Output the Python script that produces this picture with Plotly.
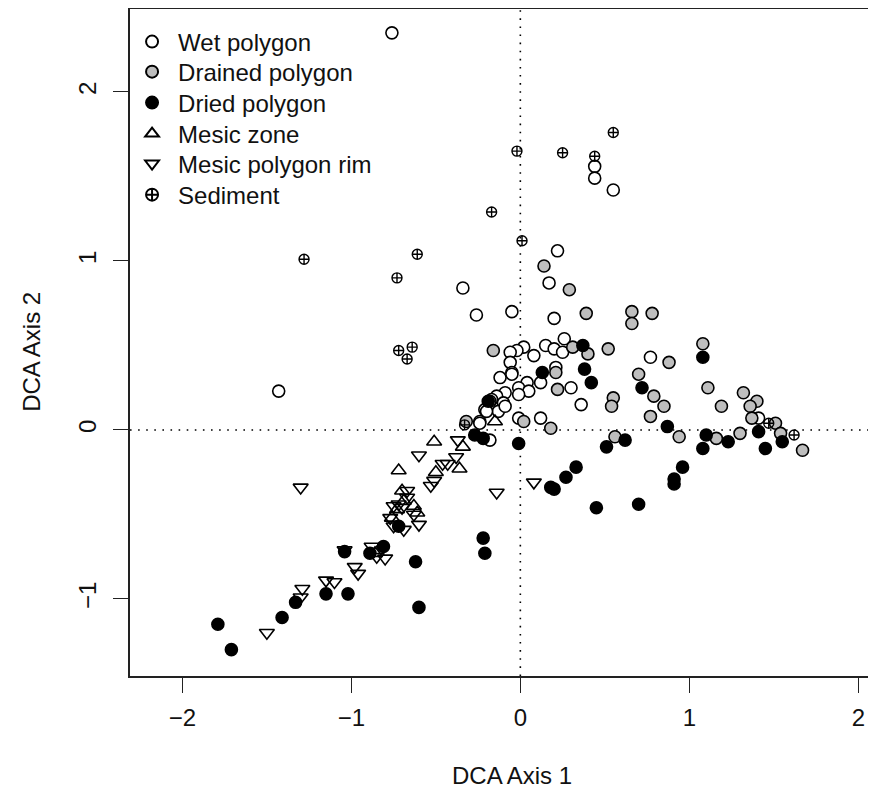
import plotly.graph_objects as go

# ---- data (DCA scores) ----
wet_x = [-0.76, -1.43, -0.34, -0.26, -0.05, 0.44, 0.44, 0.55, 0.22, 0.17, 0.20, 0.77,
         0.26, 0.21, 0.30, 0.36, 0.12, -0.01, 1.41, -0.18,
         0.02, -0.02, -0.06, 0.08, 0.15, 0.20, 0.25, -0.06, -0.05, -0.12, 0.12, 0.04,
         -0.01, 0.05, -0.09, -0.14, -0.01, -0.17, -0.10, -0.21, -0.13, -0.09, -0.24, -0.18,
         -0.05, -0.24, -0.20]
wet_y = [2.35, 0.23, 0.84, 0.68, 0.70, 1.56, 1.49, 1.42, 1.06, 0.87, 0.66, 0.43,
         0.54, 0.37, 0.25, 0.15, 0.07, 0.07, 0.07, -0.06,
         0.49, 0.47, 0.46, 0.44, 0.50, 0.48, 0.46, 0.40, 0.34, 0.31, 0.28, 0.28,
         0.25, 0.23, 0.22, 0.20, 0.21, 0.18, 0.16, 0.12, 0.11, 0.14, 0.05, 0.17,
         0.33, 0.04, 0.11]

drained_x = [0.14, 0.29, 0.39, 0.66, 0.66, 0.78, -0.16, 0.52, 0.40, 1.08, 0.88, 0.70,
             0.22, 1.11, 0.79, 0.55, 0.54, 0.85, 0.77, 1.19, 1.32, 1.40, 1.36, 1.37,
             1.51, 1.54, 1.67, 0.02, 0.18, 0.56, 0.94, 1.16, 1.30, 0.31, 0.21, -0.32]
drained_y = [0.97, 0.83, 0.69, 0.70, 0.63, 0.69, 0.47, 0.48, 0.45, 0.51, 0.40, 0.33,
             0.24, 0.25, 0.20, 0.19, 0.14, 0.14, 0.08, 0.14, 0.22, 0.17, 0.14, 0.07,
             0.04, -0.02, -0.12, 0.05, 0.01, -0.04, -0.04, -0.05, -0.02, 0.49, 0.34, 0.05]

dried_x = [0.37, 1.08, 0.13, 0.38, 0.42, 0.72, 0.87, 1.10, 1.08, 1.23, 1.41, 1.45,
           1.55, 0.62, 0.51, -0.01, 0.33, 0.27, 0.18, 0.20, 0.96, 0.91, 0.91, 0.45,
           0.70, -0.27, -0.22, -0.22, -0.21, -0.62, -0.81, -0.89, -1.04, -1.02, -1.15,
           -1.33, -1.41, -1.79, -1.71, -0.60, -0.72, -0.19]
dried_y = [0.50, 0.43, 0.34, 0.36, 0.28, 0.25, 0.02, -0.03, -0.11, -0.07, -0.01, -0.11,
           -0.07, -0.06, -0.10, -0.08, -0.22, -0.28, -0.34, -0.35, -0.22, -0.29, -0.32, -0.46,
           -0.44, -0.03, -0.05, -0.64, -0.73, -0.78, -0.69, -0.73, -0.72, -0.97, -0.97,
           -1.02, -1.11, -1.15, -1.30, -1.05, -0.57, 0.17]

mesic_zone_x = [-0.51, -0.72, -0.36, -0.34, -0.50, -0.15, -0.70, -0.61, -0.73, -0.76,
                -0.69, -0.86, -0.63]
mesic_zone_y = [-0.07, -0.24, -0.23, -0.10, -0.25, 0.05, -0.36, -0.49, -0.47, -0.52,
                -0.42, -0.73, -0.45]

rim_x = [-1.30, -0.60, -0.37, -0.38, -0.43, -0.46, -0.51, -0.53, -0.67, -0.67, -0.75,
         -0.70, -0.77, -0.75, -0.69, -0.60, -0.63, -1.04, -0.88, -0.85, -0.80, -0.98,
         -0.96, -1.10, -1.15, -1.29, -1.30, -1.50, -0.14, 0.08, -0.72]
rim_y = [-0.34, -0.15, -0.06, -0.16, -0.20, -0.20, -0.30, -0.33, -0.36, -0.40, -0.45,
         -0.46, -0.52, -0.57, -0.59, -0.56, -0.50, -0.71, -0.69, -0.75, -0.76, -0.81,
         -0.85, -0.90, -0.89, -0.94, -0.99, -1.20, -0.37, -0.31, -0.44]

sediment_x = [0.55, -0.02, 0.25, 0.44, -0.17, 0.01, -1.28, -0.61, -0.73, -0.72, -0.64,
              -0.67, -0.33, 1.47, 1.62]
sediment_y = [1.76, 1.65, 1.64, 1.62, 1.29, 1.12, 1.01, 1.04, 0.90, 0.47, 0.49,
              0.42, 0.03, 0.04, -0.03]

x_ticks = [-2, -1, 0, 1, 2]
x_ticktext = ["\u22122", "\u22121", "0", "1", "2"]
y_ticks = [-1, 0, 1, 2]
y_ticktext = ["\u22121", "0", "1", "2"]

FONT = "Liberation Sans, Arial, Helvetica, sans-serif"
FS = 24
LW = 1.6

# each legend row gets its own legend box so rows can be spaced like the original
legend_rows_y = [0.9505, 0.9055, 0.8591, 0.8126, 0.7676, 0.7211]
legend_ids = ["legend", "legend2", "legend3", "legend4", "legend5", "legend6"]

fig = go.Figure()
fig.add_trace(go.Scatter(x=wet_x, y=wet_y, mode="markers", name="Wet polygon", legend=legend_ids[0],
                         marker=dict(symbol="circle", size=12, color="white",
                                     line=dict(color="black", width=LW))))
fig.add_trace(go.Scatter(x=drained_x, y=drained_y, mode="markers", name="Drained polygon", legend=legend_ids[1],
                         marker=dict(symbol="circle", size=12, color="#bebebe",
                                     line=dict(color="black", width=LW))))
fig.add_trace(go.Scatter(x=dried_x, y=dried_y, mode="markers", name="Dried polygon", legend=legend_ids[2],
                         marker=dict(symbol="circle", size=12, color="black",
                                     line=dict(color="black", width=LW))))
fig.add_trace(go.Scatter(x=mesic_zone_x, y=mesic_zone_y, mode="markers", name="Mesic zone", legend=legend_ids[3],
                         marker=dict(symbol="triangle-up-open", size=13, color="black",
                                     line=dict(color="black", width=LW))))
fig.add_trace(go.Scatter(x=rim_x, y=rim_y, mode="markers", name="Mesic polygon rim", legend=legend_ids[4],
                         marker=dict(symbol="triangle-down-open", size=13, color="black",
                                     line=dict(color="black", width=LW))))
fig.add_trace(go.Scatter(x=sediment_x, y=sediment_y, mode="markers", name="Sediment", legend=legend_ids[5],
                         marker=dict(symbol="circle-cross-open", size=10, color="black",
                                     line=dict(color="black", width=1.4))))

# dotted reference lines at 0
fig.add_shape(type="line", xref="x", yref="paper", x0=0, x1=0, y0=0, y1=1,
              line=dict(color="black", width=1.6, dash="1.6px,6.5px"), layer="below")
fig.add_shape(type="line", xref="paper", yref="y", x0=0, x1=1, y0=0, y1=0,
              line=dict(color="black", width=1.6, dash="1.6px,6.5px"), layer="below")

axis_common = dict(showline=True, linecolor="#222", linewidth=1.6, mirror=True,
                   showgrid=False, zeroline=False, ticks="outside", ticklen=15,
                   tickwidth=1.4, tickcolor="#222", automargin=False,
                   tickfont=dict(family=FONT, size=FS, color="#111"))

legend_common = dict(x=-0.0053, xanchor="left", yanchor="middle",
                     bgcolor="rgba(0,0,0,0)", borderwidth=0, itemsizing="constant",
                     itemwidth=42, font=dict(family=FONT, size=FS, color="#111"))

layout_legends = {lid: dict(y=ly, **legend_common) for lid, ly in zip(legend_ids, legend_rows_y)}

# the page body has an 8px default margin; the figure size/margins account for it
fig.update_layout(
    width=868, height=786,
    margin=dict(l=122, r=3, t=1, b=118, autoexpand=False),
    paper_bgcolor="white", plot_bgcolor="white",
    showlegend=True,
    xaxis=dict(range=[-2.31, 2.087], tickvals=x_ticks, ticktext=x_ticktext,
               ticklabelstandoff=4, **axis_common),
    yaxis=dict(range=[-1.456, 2.491], tickvals=y_ticks, ticktext=y_ticktext,
               tickangle=-90, ticklabelstandoff=8, **axis_common),
    annotations=[
        dict(text="DCA Axis 1", xref="paper", yref="paper", x=0.514, y=0,
             yshift=-99, xanchor="center", yanchor="middle", showarrow=False,
             font=dict(family=FONT, size=FS, color="#111")),
        dict(text="DCA Axis 2", xref="paper", yref="paper", x=0, y=0.486,
             xshift=-98, xanchor="center", yanchor="middle", showarrow=False, textangle=-90,
             font=dict(family=FONT, size=FS, color="#111")),
    ],
    **layout_legends,
)

fig.write_html("out.html")
